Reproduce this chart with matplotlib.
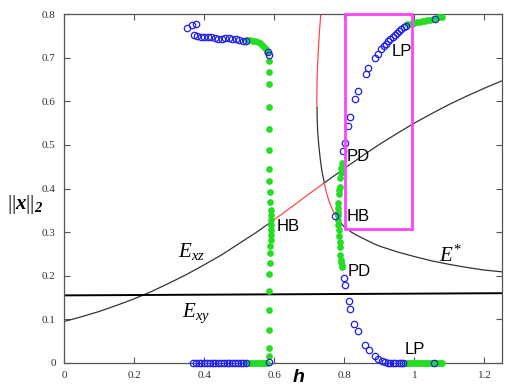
import matplotlib
matplotlib.use("Agg")
import matplotlib.pyplot as plt
from matplotlib.patches import Rectangle

plt.rcParams['mathtext.fontset'] = 'custom'
plt.rcParams['mathtext.rm'] = 'Liberation Serif'
plt.rcParams['mathtext.it'] = 'Liberation Serif:italic'
plt.rcParams['mathtext.bf'] = 'Liberation Serif:bold:italic'

# ---------------- data ----------------
# E_xz equilibrium curve (black / red unstable part)
exz_h1 = [0.0, 0.05, 0.1, 0.15, 0.2, 0.25, 0.3, 0.35, 0.4, 0.45, 0.5, 0.55, 0.585]
exz_v1 = [0.095, 0.106, 0.118, 0.132, 0.147, 0.164, 0.183, 0.203, 0.225, 0.248,
          0.274, 0.300, 0.320]
exz_h2 = [0.585, 0.65, 0.70, 0.743]
exz_v2 = [0.320, 0.358, 0.388, 0.413]
exz_h3 = [0.743, 0.80, 0.85, 0.90, 0.95, 1.0, 1.05, 1.10, 1.15, 1.20, 1.25]
exz_v3 = [0.413, 0.446, 0.474, 0.501, 0.526, 0.550, 0.572, 0.593, 0.612, 0.630, 0.647]

# E_xy equilibrium
exy_h = [0.0, 1.25]
exy_v = [0.155, 0.160]

# E* equilibrium pieces
es_h1 = [0.733, 0.729, 0.726, 0.7235, 0.722, 0.7215, 0.722]
es_v1 = [0.80, 0.76, 0.72, 0.68, 0.64, 0.60, 0.585]
es_h2 = [0.722, 0.7225, 0.724, 0.727, 0.731, 0.736, 0.743]
es_v2 = [0.585, 0.56, 0.53, 0.50, 0.47, 0.44, 0.413]
es_h3 = [0.743, 0.749, 0.757, 0.766, 0.777]
es_v3 = [0.413, 0.390, 0.370, 0.352, 0.335]
es_h4 = [0.777, 0.79, 0.80, 0.82, 0.84, 0.86, 0.88, 0.90, 0.95, 1.0, 1.05, 1.10,
         1.15, 1.20, 1.25]
es_v4 = [0.335, 0.321, 0.312, 0.300, 0.291, 0.283, 0.275, 0.268, 0.255, 0.244,
         0.234, 0.226, 0.219, 0.213, 0.209]

# periodic orbit branches: unstable (blue circles) and stable (green dots)
blue_h = [0.351, 0.365, 0.377, 0.371, 0.380, 0.390, 0.400, 0.410, 0.420, 0.430,
          0.440, 0.450, 0.460, 0.470, 0.480, 0.490, 0.500, 0.510, 0.520,
          0.583, 0.584,
          0.368, 0.376, 0.384, 0.392, 0.400, 0.408, 0.416, 0.424, 0.432, 0.440,
          0.448, 0.456, 0.464, 0.472, 0.480, 0.488, 0.496, 0.504, 0.512, 0.520,
          0.585,
          0.774,
          0.796, 0.801, 0.811, 0.815, 0.831, 0.839, 0.861, 0.869, 0.887, 0.895,
          0.905, 0.912, 0.919, 0.925, 0.931, 0.938, 0.944, 0.951, 0.957, 0.963,
          0.969, 0.976, 1.058,
          0.798, 0.801, 0.812, 0.817, 0.829, 0.839, 0.860, 0.871, 0.887, 0.896,
          0.908, 0.917, 0.925, 0.931, 0.938, 0.946, 0.955, 0.962, 0.968, 1.057]
blue_v = [0.769, 0.774, 0.776, 0.753, 0.750, 0.748, 0.748, 0.748, 0.747, 0.744,
          0.742, 0.743, 0.744, 0.744, 0.743, 0.742, 0.741, 0.739, 0.738,
          0.712, 0.705,
          0.0, 0.0, 0.0, 0.0, 0.0, 0.0, 0.0, 0.0, 0.0, 0.0,
          0.0, 0.0, 0.0, 0.0, 0.0, 0.0, 0.0, 0.0, 0.0, 0.0,
          0.003,
          0.336,
          0.485, 0.504, 0.544, 0.563, 0.605, 0.623, 0.662, 0.677, 0.700, 0.709,
          0.720, 0.727, 0.732, 0.737, 0.742, 0.747, 0.752, 0.757, 0.762, 0.766,
          0.770, 0.773, 0.788,
          0.194, 0.179, 0.142, 0.123, 0.089, 0.073, 0.041, 0.030, 0.016, 0.009,
          0.005, 0.002, 0.001, 0.0, 0.0, 0.0, 0.0, 0.0, 0.0, 0.0]

green_h = [0.522, 0.530, 0.538, 0.546, 0.553, 0.560, 0.566, 0.571, 0.576, 0.580,
           0.584, 0.584, 0.584, 0.584, 0.584, 0.585, 0.584, 0.586, 0.588, 0.589,
           0.590, 0.591, 0.592, 0.592, 0.592, 0.591, 0.590, 0.589, 0.587, 0.587,
           0.586, 0.586, 0.585, 0.585, 0.585, 0.585,
           0.525, 0.530, 0.535, 0.540, 0.545, 0.550, 0.555, 0.560, 0.565, 0.570,
           0.575, 0.580,
           0.793, 0.791, 0.791, 0.789, 0.787, 0.785, 0.785, 0.783, 0.781, 0.781,
           0.781, 0.782, 0.783, 0.784, 0.785, 0.787, 0.787, 0.789, 0.791, 0.791,
           0.793, 0.794,
           0.975, 0.980, 0.985, 0.990, 0.995, 1.000, 1.005, 1.010, 1.015, 1.020,
           1.025, 1.030, 1.035, 1.040, 1.045, 1.050, 1.055, 1.060, 1.065, 1.070,
           1.075, 1.080,
           0.978, 0.985, 0.992, 1.000, 1.008, 1.015, 1.022, 1.030, 1.037, 1.045,
           1.052, 1.062, 1.070, 1.078]
green_v = [0.740, 0.740, 0.739, 0.738, 0.736, 0.733, 0.729, 0.724, 0.719, 0.714,
           0.693, 0.666, 0.639, 0.586, 0.536, 0.489, 0.445, 0.418, 0.393, 0.370,
           0.351, 0.339, 0.328, 0.317, 0.305, 0.294, 0.282, 0.268, 0.252, 0.229,
           0.203, 0.164, 0.122, 0.076, 0.034, 0.016,
           0.0, 0.0, 0.0, 0.0, 0.0, 0.0, 0.0, 0.0, 0.0, 0.0,
           0.0, 0.0,
           0.458, 0.446, 0.435, 0.424, 0.404, 0.397, 0.388, 0.366, 0.355, 0.347,
           0.339, 0.328, 0.317, 0.305, 0.290, 0.278, 0.267, 0.248, 0.236, 0.232,
           0.225, 0.219,
           0.0, 0.0, 0.0, 0.0, 0.0, 0.0, 0.0, 0.0, 0.0, 0.0,
           0.0, 0.0, 0.0, 0.0, 0.0, 0.0, 0.0, 0.0, 0.0, 0.0,
           0.0, 0.0,
           0.776, 0.777, 0.778, 0.780, 0.781, 0.782, 0.783, 0.785, 0.786, 0.787,
           0.789, 0.790, 0.792, 0.793]

# labels
bif_labels = ["HB", "HB", "PD", "PD", "LP", "LP"]
bif_h = [0.607, 0.806, 0.806, 0.810, 0.936, 0.971]
bif_v = [0.313, 0.336, 0.473, 0.209, 0.714, 0.030]

eq_labels = [r"$E_{xz}$", r"$E_{xy}$", r"$E^{*}$"]
eq_h = [0.326, 0.336, 1.069]
eq_v = [0.255, 0.115, 0.246]

box_h = [0.803, 0.993]
box_v = [0.307, 0.80]

x_ticks = [0, 0.2, 0.4, 0.6, 0.8, 1.0, 1.2]
x_tick_labels = ["0", "0.2", "0.4", "0.6", "0.8", "1", "1.2"]
y_ticks = [0, 0.1, 0.2, 0.3, 0.4, 0.5, 0.6, 0.7, 0.8]
y_tick_labels = ["0", "0.1", "0.2", "0.3", "0.4", "0.5", "0.6", "0.7", "0.8"]

# ---------------- plot ----------------
fig = plt.figure(figsize=(5.18, 3.88), dpi=100)
ax = fig.add_axes([64/518, 25/388, 438/518, 349/388])

red = "#ff4a4a"
dark = "#333333"
ax.plot(exz_h1, exz_v1, color=dark, lw=0.9, zorder=2)
ax.plot(exz_h2, exz_v2, color=red, lw=0.9, zorder=2)
ax.plot(exz_h3, exz_v3, color=dark, lw=0.9, zorder=2)
ax.plot(exy_h, exy_v, color="black", lw=1.4, zorder=2)
ax.plot(es_h1, es_v1, color=red, lw=0.9, zorder=2)
ax.plot(es_h2, es_v2, color=dark, lw=0.9, zorder=2)
ax.plot(es_h3, es_v3, color=red, lw=0.9, zorder=2)
ax.plot(es_h4, es_v4, color=dark, lw=0.9, zorder=2)

ax.plot(green_h, green_v, linestyle="none", marker="o", ms=3.8, mfc="#22dd22",
        mec="#22dd22", zorder=3, clip_on=False)
ax.plot(blue_h, blue_v, linestyle="none", marker="o", ms=4.6, mfc="none",
        mec="#2020ee", mew=0.9, zorder=4, clip_on=False)

ax.add_patch(Rectangle((box_h[0], box_v[0]), box_h[1] - box_h[0], box_v[1] - box_v[0],
                       fill=False, edgecolor="#ff44ff", lw=2.0, zorder=5, clip_on=False))

for t, hx, vy in zip(bif_labels, bif_h, bif_v):
    ax.text(hx, vy, t, ha="left", va="center", fontsize=12,
            family="Liberation Sans", color="black", zorder=6)
for t, hx, vy in zip(eq_labels, eq_h, eq_v):
    ax.text(hx, vy, t, ha="left", va="center", fontsize=15, color="black", zorder=6)

ax.set_xlim(0, 1.25)
ax.set_ylim(0, 0.8)
ax.set_xticks(x_ticks)
ax.set_xticklabels(x_tick_labels)
ax.set_yticks(y_ticks)
ax.set_yticklabels(y_tick_labels)
ax.tick_params(direction="in", length=4, width=0.8, color="#555555",
               top=True, right=True, labelsize=8, labelcolor="#333333", pad=6)
for lbl in ax.get_xticklabels() + ax.get_yticklabels():
    lbl.set_family("Liberation Serif")
for sp in ax.spines.values():
    sp.set_color("#555555")
    sp.set_linewidth(0.9)

fig.text(7/518, 1 - 204/388, r"$||\mathbf{x}||_{\mathbf{2}}$", ha="left", va="center",
         fontsize=15)
fig.text(299/518, 1 - 378/388, "h", ha="center", va="center", fontsize=14,
         family="Liberation Sans", weight="bold", style="italic")

fig.savefig("out.png", dpi=100)
